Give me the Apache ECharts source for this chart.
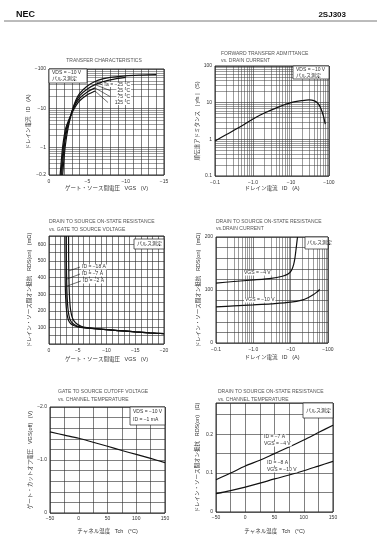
<!DOCTYPE html>
<html>
<head>
<meta charset="utf-8">
<script src="https://cdn.jsdelivr.net/npm/echarts@6/dist/echarts.min.js"></script>
<style>
  html, body { margin: 0; padding: 0; background: #fff; }
  #chart { width: 377px; height: 550px; }
</style>
</head>
<body>
<div id="chart"></div>
<script>
// region data
// transfer characteristics (VGS [V], |ID| [A]), VDS = -10 V
const transferTaM25 = [[-1.78, 0.2], [-1.95, 0.5], [-2.15, 1.2], [-2.5, 3.2], [-3, 8.5], [-3.5, 16], [-4, 24], [-5, 37], [-6, 48], [-7, 56], [-8, 61], [-10, 67], [-12, 70], [-14, 72]]
const transferTa25 = [[-1.65, 0.2], [-1.82, 0.5], [-2.02, 1.2], [-2.4, 3.2], [-3, 8.3], [-3.5, 14.5], [-4, 21], [-5, 31], [-6, 40], [-7, 47], [-8, 53], [-10, 61]]
const transferTa75 = [[-1.55, 0.2], [-1.72, 0.5], [-1.92, 1.2], [-2.3, 3.2], [-3, 8], [-3.5, 13], [-4, 18], [-5, 26], [-6, 33]]
const transferTa125 = [[-1.45, 0.2], [-1.62, 0.5], [-1.82, 1.2], [-2.2, 3.2], [-3, 7.6], [-3.5, 11.5], [-4, 15.5], [-5, 22], [-6, 27.5]]
const transferLeaders = [[[-6, 48], [-6.9, 40.3]], [[-6, 40], [-7.96, 28.3]], [[-6, 33], [-7.96, 19.9]], [[-6, 27.5], [-7.7, 14]]]
const transferTaLabels = ['Ta = −25 °C', '25 °C', '75 °C', '125 °C']

// forward transfer admittance (|ID| [A], |yfs| [S])
const admittance = [[0.1, 0.9], [0.2, 1.35], [0.5, 2.3], [1, 3.6], [2, 5.2], [5, 7.8], [10, 10], [20, 11.4], [30, 11.9], [40, 11.4], [50, 9.8], [60, 7.3], [70, 4.6], [80, 2.6]]

// RDS(on) vs VGS (VGS [V], RDS [mΩ])
const rdsVgsId18 = [[-3.4, 650], [-3.42, 520], [-3.45, 420], [-3.5, 340], [-3.58, 275], [-3.7, 220], [-3.9, 178], [-4.15, 150], [-4.55, 130], [-5, 117], [-5.6, 107], [-6.3, 100], [-8, 93], [-10, 87], [-12, 81], [-15, 73], [-17.5, 67], [-20, 62]]
const rdsVgsId7 = [[-3.0, 650], [-3.02, 520], [-3.05, 420], [-3.1, 340], [-3.17, 275], [-3.28, 220], [-3.45, 175], [-3.7, 145], [-4.1, 125], [-4.6, 113], [-5.2, 105], [-6, 99], [-8, 92], [-10, 86], [-12, 81], [-15, 73], [-17.5, 67], [-20, 62]]
const rdsVgsId2 = [[-2.75, 650], [-2.77, 520], [-2.8, 420], [-2.84, 340], [-2.9, 275], [-3.0, 220], [-3.15, 175], [-3.4, 142], [-3.8, 122], [-4.3, 111], [-5, 103], [-6, 98], [-8, 92], [-10, 86], [-12, 81], [-15, 73], [-17.5, 67], [-20, 62]]
const rdsVgsLeaders = [[[-3.445, 440], [-5.4, 463]], [[-3.07, 390], [-5.4, 421]], [[-2.84, 345], [-5.55, 379]]]
const rdsVgsLabels = ['ID = −18 A', 'ID = −7 A', 'ID = −2 A']

// RDS(on) vs ID (|ID| [A], RDS [mΩ])
const rdsIdVgs4 = [[0.1, 113], [0.3, 116], [1, 119], [3, 122], [6, 126], [8.5, 130], [10.5, 137], [12, 148], [13, 160], [14, 178], [15, 196], [15.3, 200]]
const rdsIdVgs10 = [[0.1, 68], [0.3, 70], [1, 72], [3, 74], [10, 77], [20, 81], [30, 86], [40, 91], [50, 96], [60, 101]]
const rdsIdLabels = ['VGS = −4 V', 'VGS = −10 V']

// VGS(off) vs channel temperature (Tch [°C], VGS(off) [V])
const cutoffVoltage = [[-50, -1.53], [-25, -1.47], [0, -1.41], [25, -1.335], [50, -1.26], [75, -1.18], [100, -1.105], [125, -1.03], [150, -0.95]]

// RDS(on) vs channel temperature (Tch [°C], RDS [Ω])
const rdsTempId7 = [[-50, 0.083], [-25, 0.1], [0, 0.118], [25, 0.133], [50, 0.15], [75, 0.167], [100, 0.185], [125, 0.204], [150, 0.223]]
const rdsTempId8 = [[-50, 0.047], [-25, 0.055], [0, 0.064], [25, 0.074], [50, 0.085], [75, 0.095], [100, 0.106], [125, 0.118], [150, 0.13]]
// endregion

// region styles
const font = '"Liberation Sans", "Noto Sans CJK JP", sans-serif'
const textColor = '#333'
const lineColor = '#111'
const gridLine = { color: '#2a2a2a', width: 0.6 }

const num = (v) => (v >= 1 ? String(Math.round(v)) : String(Math.round(v * 10) / 10))
const neg = (s) => '−' + s

const baseAxis = (extra) => Object.assign({
  axisLine: { show: false },
  axisTick: { show: false },
  splitLine: { show: true, lineStyle: gridLine },
  nameLocation: 'middle',
  nameTextStyle: { fontSize: 5.5, color: textColor, fontFamily: font },
}, extra, {
  axisLabel: Object.assign({ fontSize: 5, color: textColor, fontFamily: font, margin: 3 }, extra.axisLabel),
})

const logAxis = (extra) => baseAxis(Object.assign({
  type: 'log',
  logBase: 10,
  minorTick: { show: false, splitNumber: 9 },
  minorSplitLine: { show: true, lineStyle: { color: '#3a3a3a', width: 0.5 } },
}, extra))

const curve = (data, x, y, extra) => Object.assign({
  type: 'line',
  data,
  xAxisIndex: x,
  yAxisIndex: y,
  showSymbol: false,
  symbol: 'none',
  smooth: 0.3,
  lineStyle: { color: lineColor, width: 1.2 },
  silent: true,
}, extra)

const leaders = (pairs) => ({
  silent: true,
  symbol: 'none',
  label: { show: false },
  lineStyle: { color: lineColor, width: 0.6, type: 'solid' },
  data: pairs.map((p) => [{ coord: p[0] }, { coord: p[1] }]),
})

const txt = (x, y, text, extra) => ({
  type: 'text',
  x,
  y,
  z: 100,
  silent: true,
  style: Object.assign({
    text,
    fill: textColor,
    fontSize: 5,
    fontFamily: font,
    align: 'left',
    verticalAlign: 'middle',
  }, extra),
})

const box = (x1, y1, x2, y2) => ({
  type: 'rect',
  z: 90,
  silent: true,
  shape: { x: x1, y: y1, width: x2 - x1, height: y2 - y1 },
  style: { fill: '#fff', stroke: '#222', lineWidth: 0.7 },
})

const labelBg = { backgroundColor: '#fff', padding: [0, 1] }
// endregion

// region chart
const chart = echarts.init(document.getElementById('chart'), null, { renderer: 'canvas' })

const gridStyle = { show: true, borderColor: '#111', borderWidth: 0.9, backgroundColor: '#fff' }

const option = {
  animation: false,
  backgroundColor: '#fff',
  grid: [
    Object.assign({ left: 49, top: 69, width: 115, height: 106 }, gridStyle),
    Object.assign({ left: 215, top: 66, width: 114, height: 110 }, gridStyle),
    Object.assign({ left: 49, top: 236, width: 115, height: 108 }, gridStyle),
    Object.assign({ left: 216, top: 237, width: 112, height: 106 }, gridStyle),
    Object.assign({ left: 50, top: 407, width: 115, height: 106 }, gridStyle),
    Object.assign({ left: 216, top: 403, width: 117, height: 109 }, gridStyle),
  ],
  xAxis: [
    baseAxis({
      gridIndex: 0, type: 'value', min: -15, max: 0, interval: 1, inverse: true,
      name: 'ゲート・ソース間電圧   VGS   (V)', nameGap: 11,
      axisLabel: { margin: 4, formatter: (v) => (v % 5 === 0 ? (v === 0 ? '0' : neg(-v)) : '') },
    }),
    logAxis({
      gridIndex: 1, min: 0.1, max: 100,
      name: 'ドレイン電流   ID   (A)', nameGap: 10,
      axisLabel: { margin: 4, formatter: (v) => neg(v === 1 ? '1.0' : num(v)) },
    }),
    baseAxis({
      gridIndex: 2, type: 'value', min: -20, max: 0, interval: 1, inverse: true,
      name: 'ゲート・ソース間電圧   VGS   (V)', nameGap: 13,
      axisLabel: { margin: 4, formatter: (v) => (v % 5 === 0 ? (v === 0 ? '0' : neg(-v)) : '') },
    }),
    logAxis({
      gridIndex: 3, min: 0.1, max: 100,
      name: 'ドレイン電流   ID   (A)', nameGap: 12,
      axisLabel: { margin: 4, formatter: (v) => neg(v === 1 ? '1.0' : num(v)) },
    }),
    baseAxis({
      gridIndex: 4, type: 'value', min: -50, max: 150, interval: 25,
      name: 'チャネル温度   Tch   (°C)', nameGap: 16,
      axisLabel: { margin: 3, formatter: (v) => (v % 50 === 0 ? (v < 0 ? neg(-v) : String(v)) : '') },
    }),
    baseAxis({
      gridIndex: 5, type: 'value', min: -50, max: 150, interval: 25,
      name: 'チャネル温度   Tch   (°C)', nameGap: 17,
      axisLabel: { margin: 3, formatter: (v) => (v % 50 === 0 ? (v < 0 ? neg(-v) : String(v)) : '') },
    }),
  ],
  yAxis: [
    logAxis({
      gridIndex: 0, min: 0.2, max: 100,
      name: 'ドレイン電流   ID   (A)', nameGap: 9,
      axisLabel: { formatter: (v) => neg(num(v)) },
    }),
    logAxis({
      gridIndex: 1, min: 0.1, max: 100,
      name: '順伝達アドミタンス   | yfs |   (S)', nameGap: 11,
      axisLabel: { formatter: (v) => num(v) },
    }),
    baseAxis({
      gridIndex: 2, type: 'value', min: 0, max: 650, interval: 50,
      name: 'ドレイン・ソース間オン抵抗   RDS(on)   (mΩ)', nameGap: 17,
      axisLabel: { formatter: (v) => (v % 100 === 0 && v > 0 && v <= 600 ? String(v) : '') },
    }),
    baseAxis({
      gridIndex: 3, type: 'value', min: 0, max: 200, interval: 20,
      name: 'ドレイン・ソース間オン抵抗   RDS(on)   (mΩ)', nameGap: 15,
      axisLabel: { formatter: (v) => (v % 100 === 0 ? String(v) : '') },
    }),
    baseAxis({
      gridIndex: 4, type: 'value', min: -2, max: 0, interval: 0.2, inverse: true,
      name: 'ゲート・カットオフ電圧   VGS(off)   (V)', nameGap: 14,
      axisLabel: {
        formatter: (v) => (Math.abs(v - Math.round(v)) > 1e-6 ? '' : (Math.round(v) === 0 ? '0' : neg(Math.abs(v).toFixed(1)))),
      },
    }),
    baseAxis({
      gridIndex: 5, type: 'value', min: 0, max: 0.28, interval: 0.05,
      name: 'ドレイン・ソース間オン抵抗   RDS(on)   (Ω)', nameGap: 16,
      axisLabel: {
        formatter: (v) => (Math.abs(v * 10 - Math.round(v * 10)) < 1e-6 && v <= 0.2 ? (v === 0 ? '0' : v.toFixed(1)) : ''),
      },
    }),
  ],
  series: [
    curve(transferTaM25, 0, 0, { markLine: leaders(transferLeaders) }),
    curve(transferTa25, 0, 0),
    curve(transferTa75, 0, 0),
    curve(transferTa125, 0, 0),
    curve(admittance, 1, 1),
    curve(rdsVgsId18, 2, 2, { smooth: 0.2, markLine: leaders(rdsVgsLeaders) }),
    curve(rdsVgsId7, 2, 2, { smooth: 0.2 }),
    curve(rdsVgsId2, 2, 2, { smooth: 0.2 }),
    curve(rdsIdVgs4, 3, 3, { smooth: 0.2 }),
    curve(rdsIdVgs10, 3, 3),
    curve(cutoffVoltage, 4, 4),
    curve(rdsTempId7, 5, 5),
    curve(rdsTempId8, 5, 5),
  ],
  graphic: [
    // page header
    txt(16, 15, 'NEC', { fontSize: 9, fontWeight: 'bold', fill: '#111' }),
    txt(346, 15, '2SJ303', { fontSize: 8, fontWeight: 'bold', fill: '#111', align: 'right' }),
    { type: 'line', z: 100, silent: true, shape: { x1: 4, y1: 21, x2: 377, y2: 21 }, style: { stroke: '#555', lineWidth: 0.8 } },

    // titles
    txt(104, 61, 'TRANSFER CHARACTERISTICS', { align: 'center', fill: '#555' }),
    txt(221, 54, 'FORWARD TRANSFER ADMITTANCE', { fill: '#555' }),
    txt(221, 61, 'vs. DRAIN CURRENT', { fill: '#555' }),
    txt(49, 222, 'DRAIN TO SOURCE ON-STATE RESISTANCE', { fill: '#555' }),
    txt(49, 230, 'vs. GATE TO SOURCE VOLTAGE', { fill: '#555' }),
    txt(216, 222, 'DRAIN TO SOURCE ON-STATE RESISTANCE', { fill: '#555' }),
    txt(216, 229, 'vs.DRAIN CURRENT', { fill: '#555' }),
    txt(58, 392, 'GATE TO SOURCE CUTOFF VOLTAGE', { fill: '#555' }),
    txt(58, 400, 'vs. CHANNEL TEMPERATURE', { fill: '#555' }),
    txt(218, 392, 'DRAIN TO SOURCE ON-STATE RESISTANCE', { fill: '#555' }),
    txt(218, 400, 'vs. CHANNEL TEMPERATURE', { fill: '#555' }),

    // condition boxes
    box(49, 69, 87, 83),
    txt(52, 73, 'VDS = −10 V'),
    txt(52, 79, 'パルス測定'),
    box(293, 66, 329, 79),
    txt(296, 70, 'VDS = −10 V'),
    txt(296, 75.5, 'パルス測定'),
    box(134, 239, 164, 249),
    txt(137, 244, 'パルス測定'),
    box(305, 237, 328, 249),
    txt(307, 243, 'パルス測定'),
    box(130, 407, 165, 425),
    txt(133, 412, 'VDS = −10 V'),
    txt(133, 420, 'ID = −1 mA'),
    box(303, 403, 333, 418),
    txt(306, 411, 'パルス測定'),

    // curve labels
    txt(131, 84.5, transferTaLabels[0], Object.assign({ align: 'right' }, labelBg)),
    txt(131, 90.5, transferTaLabels[1], Object.assign({ align: 'right' }, labelBg)),
    txt(131, 96.5, transferTaLabels[2], Object.assign({ align: 'right' }, labelBg)),
    txt(131, 102.5, transferTaLabels[3], Object.assign({ align: 'right' }, labelBg)),
    txt(81, 267, rdsVgsLabels[0], labelBg),
    txt(81, 274, rdsVgsLabels[1], labelBg),
    txt(82, 281, rdsVgsLabels[2], labelBg),
    txt(243, 273, rdsIdLabels[0], labelBg),
    txt(244, 300, rdsIdLabels[1], labelBg),
    txt(263, 437, 'ID = −7 A', labelBg),
    txt(263, 444, 'VGS = −4 V', labelBg),
    txt(266, 463, 'ID = −8 A', labelBg),
    txt(266, 470, 'VGS = −10 V', labelBg),
  ],
}

chart.setOption(option)
// endregion
</script>
</body>
</html>
